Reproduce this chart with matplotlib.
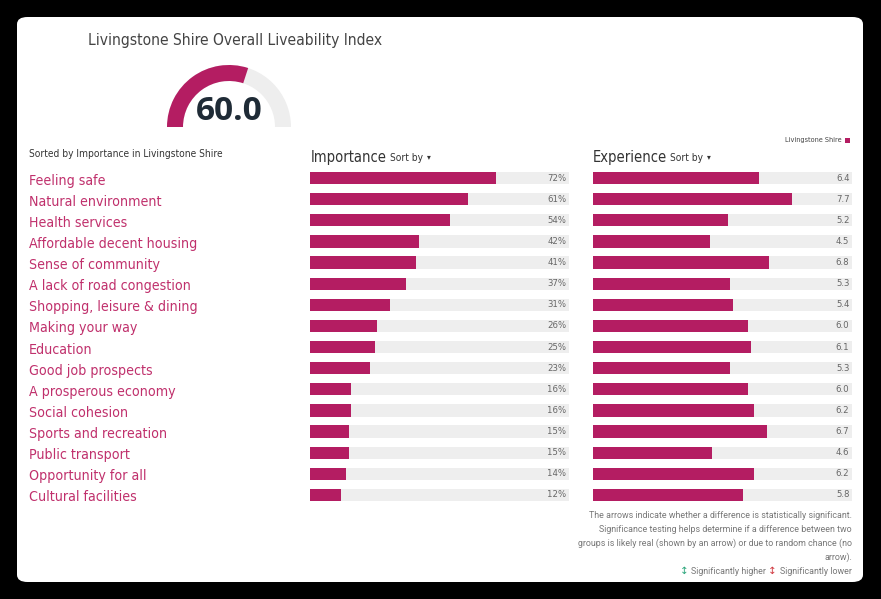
import matplotlib
matplotlib.use("Agg")
import matplotlib.pyplot as plt
from matplotlib import font_manager
from matplotlib.patches import FancyBboxPatch, Wedge, Rectangle
from matplotlib.transforms import blended_transform_factory

categories = ["Feeling safe", "Natural environment", "Health services",
              "Affordable decent housing", "Sense of community",
              "A lack of road congestion", "Shopping, leisure & dining",
              "Making your way", "Education", "Good job prospects",
              "A prosperous economy", "Social cohesion", "Sports and recreation",
              "Public transport", "Opportunity for all", "Cultural facilities"]
importance = [72, 61, 54, 42, 41, 37, 31, 26, 25, 23, 16, 16, 15, 15, 14, 12]
experience = [6.4, 7.7, 5.2, 4.5, 6.8, 5.3, 5.4, 6.0, 6.1, 5.3, 6.0, 6.2, 6.7, 4.6, 6.2, 5.8]
index_value = 60.0

W, H = 881, 599
MAGENTA = "#b41d62"
LABEL = "#c0306c"
TRACK = "#eeeeee"

# look for a condensed face, otherwise Roboto
cond = None
for f in font_manager.fontManager.ttflist:
    if ("Condensed" in f.fname or "Narrow" in f.fname) and "Bold" not in f.fname \
            and "Oblique" not in f.fname and "Italic" not in f.fname:
        cond = f.fname
        break
if cond:
    font_manager.fontManager.addfont(cond)
    narrow_prop = font_manager.FontProperties(fname=cond)
else:
    narrow_prop = font_manager.FontProperties(family="Roboto")
plt.rcParams["font.family"] = ["Roboto", "DejaVu Sans"]


def fx(x):
    return x / W


def fy(y):
    return 1 - y / H


def box(x0, y0, x1, y1):
    return [fx(x0), fy(y1), (x1 - x0) / W, (y1 - y0) / H]


def nt(size):
    p = narrow_prop.copy()
    p.set_size(size)
    return p


fig = plt.figure(figsize=(8.81, 5.99), dpi=100)
fig.patch.set_facecolor("black")
card = FancyBboxPatch((fx(17), fy(582)), fx(846), (582 - 17) / H,
                      boxstyle="round,pad=0,rounding_size=0.012",
                      transform=fig.transFigure, facecolor="white", edgecolor="none",
                      zorder=-5)
fig.patches.append(card)

fig.text(fx(88), fy(41), "Livingstone Shire Overall Liveability Index",
         ha="left", va="center", fontproperties=nt(11.2), color="#444444")

# gauge
gax = fig.add_axes(box(159, 60, 299, 135))
gax.set_xlim(-70, 70)
gax.set_ylim(-8, 67)
gax.axis("off")
gax.add_patch(Wedge((0, 0), 62, 0, 180, width=16, facecolor="#eeeeee", edgecolor="none"))
gax.add_patch(Wedge((0, 0), 62, 180 - 180 * index_value / 100, 180, width=16,
                    facecolor=MAGENTA, edgecolor="none"))
gax.text(0, 15, f"{index_value:.1f}", ha="center", va="center", fontsize=24,
         fontweight="bold", color="#1f2b36", family="Open Sans")

fig.text(fx(29), fy(154), "Sorted by Importance in Livingstone Shire",
         ha="left", va="center", fontproperties=nt(7.3), color="#333333")

n = len(categories)
rows = list(range(n))


def bar_panel(x0, x1, values, vmax, fmt):
    ax = fig.add_axes(box(x0, 167.5, x1, 505.5))
    ax.set_xlim(0, vmax)
    ax.set_ylim(n - 0.5, -0.5)
    ax.axis("off")
    ax.barh(rows, [vmax] * n, height=0.58, color=TRACK)
    ax.barh(rows, values, height=0.58, color=MAGENTA)
    for r, v in zip(rows, values):
        ax.text(vmax * 0.99, r, fmt(v), ha="right", va="center",
                fontproperties=nt(6.8), color="#666666")
    return ax

ax1 = bar_panel(310, 569, importance, 100, lambda v: f"{v}%")
ax2 = bar_panel(593, 852, experience, 10, lambda v: f"{v:.1f}")

tr = blended_transform_factory(fig.transFigure, ax1.transData)
for r, c in zip(rows, categories):
    ax1.text(fx(29), r + 0.12, c, transform=tr, ha="left", va="center",
             fontproperties=nt(10.2), color=LABEL)

# headers
for x, name in [(311, "Importance"), (593, "Experience")]:
    t = fig.text(fx(x), fy(157), name, ha="left", va="center",
                 fontproperties=nt(10.5), color="#333333")
    fig.canvas.draw()
    bb = t.get_window_extent()
    s = fig.text(bb.x1 / W + fx(3), fy(158), "Sort by", ha="left", va="center",
                 fontproperties=nt(7.3), color="#333333")
    fig.canvas.draw()
    fig.text(s.get_window_extent().x1 / W + fx(4), fy(157), "\u25be", ha="left", va="center",
             fontsize=5.5, color="#333333", family="DejaVu Sans")

fig.text(fx(842), fy(140), "Livingstone Shire", ha="right", va="center",
         fontproperties=nt(5.2), color="#444444")
fig.patches.append(Rectangle((fx(845), fy(143)), fx(5), 5 / H, transform=fig.transFigure,
                             facecolor=MAGENTA, edgecolor="none"))

notes = ["The arrows indicate whether a difference is statistically significant.",
         "Significance testing helps determine if a difference between two",
         "groups is likely real (shown by an arrow) or due to random chance (no",
         "arrow)."]
for i, line in enumerate(notes):
    fig.text(fx(852), fy(516 + 13.7 * i), line, ha="right", va="center",
             fontsize=6.4, color="#777777")

lo = fig.text(fx(852), fy(571), "Significantly lower", ha="right", va="center",
              fontsize=6.4, color="#777777")
fig.canvas.draw()
x = lo.get_window_extent().x0
a = fig.text(x / W - fx(3), fy(571), "\u2195", ha="right", va="center", fontsize=7.5,
             color="#d0383f", family="DejaVu Sans")
fig.canvas.draw()
x = a.get_window_extent().x0
hi = fig.text(x / W - fx(3), fy(571), "Significantly higher", ha="right", va="center",
              fontsize=6.4, color="#777777")
fig.canvas.draw()
x = hi.get_window_extent().x0
fig.text(x / W - fx(2), fy(571), "\u2195", ha="right", va="center", fontsize=7.5,
         color="#2aa57a", family="DejaVu Sans")

fig.savefig("out.png", dpi=100, facecolor=fig.get_facecolor())
